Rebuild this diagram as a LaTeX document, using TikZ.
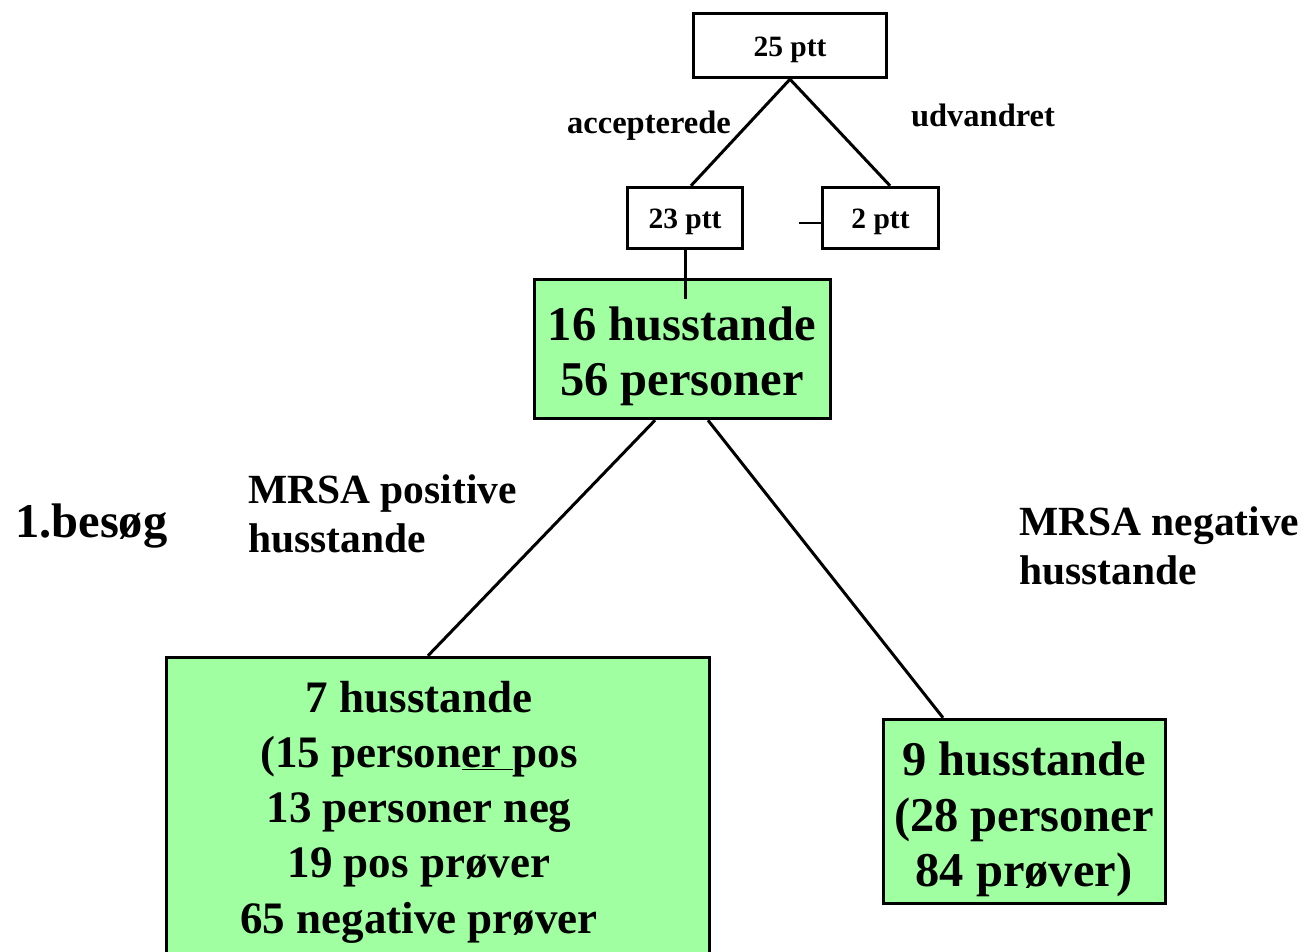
\documentclass[tikz,border=0pt]{standalone}
\usepackage{fontspec}
\setmainfont{Liberation Serif}
\usepackage{xcolor}
\usepackage{tikz}
\definecolor{boxgreen}{HTML}{A0FFA0}
\tikzset{
  pttbox/.style={draw=black, line width=3.5pt, fill=white, inner sep=0pt,
    text height=22pt, text depth=0pt, font=\fontsize{29.5}{34}\selectfont\bfseries},
  grbox/.style={draw=black, line width=3.5pt, fill=boxgreen, inner sep=0pt},
  big/.style={inner sep=0pt, align=center, font=\fontsize{48.5}{55.5}\selectfont\bfseries},
  bigs/.style={inner sep=0pt, align=center, font=\fontsize{45}{55.3}\selectfont\bfseries},
  mid/.style={inner sep=0pt, align=left, font=\fontsize{41.5}{48.5}\selectfont\bfseries},
  lab/.style={inner sep=0pt, font=\fontsize{32.5}{38}\selectfont\bfseries},
  con/.style={draw=black, line width=3pt},
  tick/.style={draw=black, line width=1pt},
}

\begin{document}
\begin{tikzpicture}[x=1pt,y=-1pt]
  \useasboundingbox (0,0) rectangle (1306,952);
  % top boxes
  \node[pttbox, minimum width=193pt, minimum height=64pt] (p25) at (790,45.5) {25 ptt};
  \node[pttbox, minimum width=115pt, minimum height=61pt] (p23) at (685,218) {23 ptt};
  \node[pttbox, minimum width=116pt, minimum height=61pt] (p2) at (880.5,218) {2 ptt};
  \node[lab, anchor=base] (acc) at (649,134) {accepterede};
  \node[lab, anchor=base] (udv) at (983,127) {udvandret};
  % green boxes
  \node[grbox, minimum width=296pt, minimum height=139pt] (hh) at (682.5,349) {};
  \node[big] (hhTxt) at (682,356.4) {16 husstande\\56 personer};
  \node[grbox, minimum width=543pt, minimum height=332pt] (pos) at (438,823.5) {};
  \node[bigs] (posTxt) at (419,812) {7 husstande\\(15 person\underline{er\ }pos\\13 personer neg\\19 pos prøver\\65 negative prøver};
  \node[grbox, minimum width=282pt, minimum height=184pt] (neg) at (1024.5,811.5) {};
  \node[big] (negTxt) at (1024,819.5) {9 husstande\\(28 personer\\84 prøver)};
  % labels
  \node[big, anchor=base west] (visit) at (15,537) {1.besøg};
  \node[mid, anchor=west] (posLab) at (248,513.7) {MRSA positive\\husstande};
  \node[mid, anchor=west] (negLab) at (1019,546) {MRSA negative\\husstande};
  % connectors
  \coordinate (tk) at (799,223);
  \coordinate (hhIn) at (685,299);
  \draw[con] (p25.south) -- ([xshift=6pt]p23.north);
  \draw[con] (p25.south) -- ([xshift=9.5pt]p2.north);
  \draw[tick] (tk) -- (tk -| p2.west);
  \draw[con] (p23.south) -- (hhIn);
  \draw[con] ([xshift=-27.5pt]hh.south) -- ([xshift=-10pt]pos.north);
  \draw[con] ([xshift=25.5pt]hh.south) -- ([xshift=-81.5pt]neg.north);
\end{tikzpicture}
\end{document}
